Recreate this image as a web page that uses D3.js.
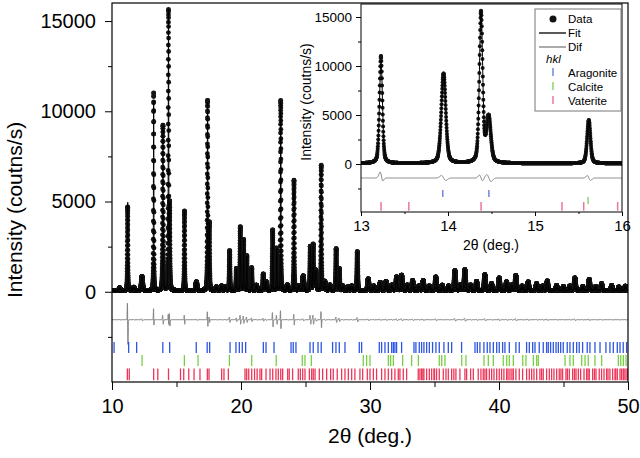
<!DOCTYPE html>
<html><head><meta charset="utf-8">
<script src="https://cdn.jsdelivr.net/npm/d3@7"></script>
<style>
body{margin:0;background:#fff}
svg{display:block}
text{font-family:Arial,"Liberation Sans",sans-serif;fill:#000}
</style>
</head><body>
<svg id="chart" width="640" height="458"></svg>
<script>
// ---------------- DATA ----------------
// Main reflections of the refined pattern: 2theta (deg), fitted height (counts/s), FWHM (deg)
const peakPos    = [11.22, 13.23, 13.95, 14.38, 14.47, 15.62, 17.41, 17.55, 19.12, 19.65, 19.95, 20.2, 20.45, 20.83, 21.73, 22.46, 22.77, 23.08, 24.11, 25.38, 25.6, 26.22, 27.38, 27.62, 29.02];
const peakHeight = [4900, 10550, 9150, 15400, 4600, 4400, 10400, 3700, 2200, 1200, 3500, 2800, 1900, 1250, 900, 3300, 2300, 10500, 6100, 2400, 2500, 6900, 2300, 1200, 2150];
const peakFwhm   = [0.05, 0.04, 0.06, 0.045, 0.06, 0.045, 0.05, 0.05, 0.06, 0.06, 0.06, 0.06, 0.06, 0.06, 0.06, 0.06, 0.06, 0.05, 0.05, 0.07, 0.07, 0.05, 0.07, 0.07, 0.07];
// residual (data - fit) around each main reflection: antisymmetric and symmetric parts
const peakResAnti = [1100, 400, 250, 300, 350, 250, 400, 150, 150, 100, 250, 200, 150, 100, 80, 400, 250, 500, 300, 250, 250, 450, 150, 100, 120];
const peakResSym  = [-600, 400, 0, 0, 0, 0, 100, 0, 0, 0, 0, 0, 0, 0, 0, 0, 0, 0, 0, 0, 0, 0, 0, 0, 0];
// weak reflections
const minorPos    = [10.6, 11.7, 12.33, 16.55, 18.1, 18.5, 18.8, 21.2, 21.94, 23.6, 24.5, 24.83, 25.8, 26.5, 26.9, 27.9, 28.3, 28.6, 29.87, 30.3, 30.8, 31.25, 31.7, 32.07, 32.46, 32.9, 33.31, 33.8, 34.13, 34.6, 35.11, 35.6, 36.1, 36.59, 37.0, 37.36, 37.8, 38.27, 38.91, 39.43, 40.02, 40.59, 41.0, 41.31, 41.8, 42.27, 42.92, 43.4, 43.75, 44.47, 45.0, 45.5, 45.89, 46.5, 47.0, 47.5, 47.96, 48.74, 49.3, 49.8];
const minorHeight = [150, 180, 780, 480, 200, 250, 200, 300, 500, 300, 250, 800, 1100, 500, 300, 250, 200, 250, 650, 250, 450, 500, 300, 750, 850, 300, 550, 250, 550, 250, 750, 300, 250, 1100, 300, 1150, 300, 500, 880, 380, 700, 480, 300, 830, 250, 480, 380, 250, 530, 280, 220, 250, 700, 220, 620, 220, 380, 280, 200, 250];
const background = 60;
const scanStart = 10, scanEnd = 50, scanStep = 0.002;
// hkl reflection positions (2theta) of the three phases
const aragonite = [10.16, 11.29, 11.91, 13.94, 14.47, 16.53, 17.38, 17.57, 19.15, 19.61, 19.87, 20.1, 20.36, 21.73, 21.94, 22.56, 23.88, 24.05, 24.26, 25.35, 25.6, 25.97, 26.22, 27.1, 27.36, 27.62, 28.06, 29.17, 29.35, 30.72, 30.9, 31.16, 31.42, 31.68, 31.81, 31.93, 32.06, 32.45, 33.41, 33.56, 33.82, 34.0, 34.18, 34.39, 34.6, 34.85, 35.11, 35.37, 35.73, 36.07, 36.33, 37.1, 38.14, 38.32, 38.52, 38.83, 39.09, 39.3, 39.56, 39.82, 40.02, 40.28, 40.46, 40.8, 41.31, 41.57, 42.14, 42.35, 42.61, 42.79, 43.12, 43.43, 43.69, 43.82, 44.0, 44.21, 44.42, 44.6, 44.78, 44.98, 45.29, 45.5, 45.76, 46.02, 46.22, 46.48, 46.84, 47.05, 47.44, 47.83, 48.29, 48.6, 48.86, 49.17, 49.38, 49.63, 49.89];
const calcite = [12.33, 15.61, 16.67, 19.1, 20.83, 22.73, 24.75, 24.96, 25.45, 29.48, 29.74, 30.0, 31.42, 31.6, 31.81, 32.53, 33.23, 33.75, 35.37, 35.56, 35.81, 37.11, 37.44, 38.84, 39.17, 39.56, 40.33, 40.6, 40.8, 41.11, 41.84, 42.09, 42.66, 42.92, 43.05, 45.12, 45.5, 45.76, 46.41, 46.67, 46.92, 47.44, 47.96, 49.25, 49.44, 49.64, 49.85];
const vaterite = [11.19, 11.34, 13.23, 13.55, 14.38, 15.31, 15.56, 15.95, 16.36, 16.82, 17.39, 17.52, 18.5, 18.68, 19.02, 20.31, 20.44, 20.6, 20.83, 21.05, 21.25, 21.47, 21.6, 21.94, 22.25, 22.46, 22.71, 22.89, 23.08, 23.23, 23.62, 23.74, 24.0, 24.44, 24.6, 24.78, 24.96, 25.3, 25.48, 25.6, 25.74, 26.07, 26.33, 26.64, 26.95, 27.15, 27.46, 27.8, 28.06, 28.32, 28.58, 28.83, 29.22, 29.43, 29.79, 30.0, 30.26, 30.51, 30.9, 31.16, 31.42, 31.68, 31.93, 32.19, 32.32, 32.58, 32.84, 33.74, 33.87, 34.0, 34.1, 34.18, 34.39, 34.6, 34.78, 34.96, 35.0, 35.16, 35.37, 35.68, 35.89, 36.07, 36.33, 36.5, 36.66, 36.97, 37.36, 37.49, 37.8, 38.01, 38.39, 38.6, 38.78, 38.91, 39.04, 39.25, 39.43, 39.61, 39.82, 40.02, 40.2, 40.38, 40.59, 40.7, 40.85, 41.0, 41.11, 41.31, 41.57, 41.83, 42.14, 42.35, 42.53, 42.71, 42.92, 43.17, 43.3, 43.43, 43.69, 43.9, 44.08, 44.26, 44.47, 44.67, 44.8, 44.93, 45.19, 45.3, 45.45, 45.71, 45.85, 45.97, 46.15, 46.33, 46.59, 46.79, 46.9, 47.0, 47.26, 47.4, 47.52, 47.77, 47.95, 48.14, 48.34, 48.45, 48.6, 48.81, 48.99, 49.05, 49.17, 49.38, 49.5, 49.63, 49.7, 49.84, 49.95];
// tick labels
const mainXTicks = [10, 20, 30, 40, 50];
const mainXMinor = [15, 25, 35, 45];
const mainYTicks = [0, 5000, 10000, 15000];
const mainYMinor = [-2500, 2500, 7500, 12500];
const insetXTicks = [13, 14, 15, 16];
const insetXMinor = [13.5, 14.5, 15.5];
const insetYTicks = [0, 5000, 10000, 15000];
const insetYMinor = [-2500, 2500, 7500, 12500];
const legendLabels = ["Data", "Fit", "Dif"];
const phaseLabels = ["Aragonite", "Calcite", "Vaterite"];

// ---------------- STYLE / LAYOUT ----------------
const phaseColorMain  = ["#2e56e6", "#78cf45", "#ee3558"];
const phaseColorInset = ["#7484dc", "#8fd36a", "#ec7598"];
const diffOffsetMain = -1550, diffOffsetInset = -1430;
const rowsMain  = [[-2780, -3390], [-3500, -4120], [-4250, -4900]];
const rowsInset = [[-2650, -3370], [-3370, -4080], [-3880, -4760]];
const phases = [aragonite, calcite, vaterite];

// ---------------- MODEL PROFILE ----------------
const eta = 0.35;
function pv(t, p, h, w) {
  const u = (t - p) / (w / 2);
  return h * (eta / (1 + u * u) + (1 - eta) * Math.exp(-Math.LN2 * u * u));
}
function fitAt(t) {
  let s = background;
  for (let i = 0; i < peakPos.length; i++) if (Math.abs(t - peakPos[i]) < 2) s += pv(t, peakPos[i], peakHeight[i], peakFwhm[i]);
  for (let i = 0; i < minorPos.length; i++) if (Math.abs(t - minorPos[i]) < 1.5) s += pv(t, minorPos[i], minorHeight[i], 0.12);
  return s;
}
function resAt(t) {
  let r = 0;
  for (let i = 0; i < peakPos.length; i++) {
    const u = (t - peakPos[i]) / (peakFwhm[i] * 0.6);
    if (Math.abs(u) < 6) r += peakResAnti[i] * (-2 * u) * Math.exp(-u * u) * 1.166 + peakResSym[i] * Math.exp(-2 * u * u);
  }
  for (let i = 0; i < minorPos.length; i++) {
    const u = (t - minorPos[i]) / 0.06;
    if (Math.abs(u) < 6) r += 0.07 * minorHeight[i] * (-2 * u) * Math.exp(-u * u) * 1.166;
  }
  return r;
}
const nPts = Math.round((scanEnd - scanStart) / scanStep);
const pts = d3.range(nPts + 1).map(i => {
  const t = scanStart + i * scanStep;
  const fit = fitAt(t), res = resAt(t);
  return {t, fit, obs: fit + res, dif: res};
});

// ---------------- DRAW ----------------
const svg = d3.select("#chart");
const defs = svg.append("defs");

// main scales
const x = d3.scaleLinear().domain([10, 50]).range([112, 628]);
const y = d3.scaleLinear().domain([-5000, 16000]).range([382, 3]);

defs.append("clipPath").attr("id", "clipMain").append("rect")
  .attr("x", x(10)).attr("y", y(16000)).attr("width", x(50) - x(10)).attr("height", y(-5000) - y(16000));

const gm = svg.append("g").attr("clip-path", "url(#clipMain)");
gm.append("g").selectAll("circle").data(pts).join("circle")
  .attr("cx", d => x(d.t)).attr("cy", d => y(d.obs)).attr("r", 2.4).attr("fill", "#151515");
gm.append("path").datum(pts).attr("fill", "none").attr("stroke", "#000").attr("stroke-width", 1)
  .attr("d", d3.line().x(d => x(d.t)).y(d => y(d.fit)));
gm.append("path").datum(pts).attr("fill", "none").attr("stroke", "#7d7d7d").attr("stroke-width", 1)
  .attr("d", d3.line().x(d => x(d.t)).y(d => y(d.dif + diffOffsetMain)));
phases.forEach((arr, k) => {
  gm.append("g").selectAll("line").data(arr).join("line")
    .attr("x1", d => x(d)).attr("x2", d => x(d))
    .attr("y1", y(rowsMain[k][0])).attr("y2", y(rowsMain[k][1]))
    .attr("stroke", phaseColorMain[k]).attr("stroke-width", 1.3);
});

// main axes
function styleAxis(g, fs) {
  g.select(".domain").remove();
  g.selectAll("line").attr("stroke", "#000").attr("stroke-width", 1);
  g.selectAll("text").style("font-size", fs + "px").attr("fill", "#000");
}
svg.append("g").attr("transform", `translate(${x(10)},0)`)
  .call(d3.axisLeft(y).tickValues(mainYTicks).tickSize(7).tickPadding(9).tickFormat(d3.format("d")))
  .call(g => styleAxis(g, 20));
svg.append("g").attr("transform", `translate(${x(10)},0)`)
  .call(d3.axisLeft(y).tickValues(mainYMinor).tickSize(4).tickFormat(""))
  .call(g => styleAxis(g, 20));
svg.append("g").attr("transform", `translate(0,${y(-5000)})`)
  .call(d3.axisBottom(x).tickValues(mainXTicks).tickSize(8).tickPadding(9).tickFormat(d3.format("d")))
  .call(g => styleAxis(g, 20));
svg.append("g").attr("transform", `translate(0,${y(-5000)})`)
  .call(d3.axisBottom(x).tickValues(mainXMinor).tickSize(5).tickFormat(""))
  .call(g => styleAxis(g, 20));
svg.append("rect").attr("x", x(10)).attr("y", y(16000)).attr("width", x(50) - x(10)).attr("height", y(-5000) - y(16000))
  .attr("fill", "none").attr("stroke", "#000").attr("stroke-width", 1.2);

svg.append("text").attr("x", 370).attr("y", 443).attr("text-anchor", "middle").style("font-size", "21px").text("2θ (deg.)");
svg.append("text").attr("transform", "translate(22,210) rotate(-90)").attr("text-anchor", "middle").style("font-size", "21px").text("Intensity (coutns/s)");

// ---------------- INSET ----------------
const ix = d3.scaleLinear().domain([13, 16]).range([361, 622]);
const iy = d3.scaleLinear().domain([-4900, 16330]).range([212, 4]);
svg.append("rect").attr("x", ix(13)).attr("y", iy(16330)).attr("width", ix(16) - ix(13)).attr("height", iy(-4900) - iy(16330)).attr("fill", "#fff");
defs.append("clipPath").attr("id", "clipInset").append("rect")
  .attr("x", ix(13)).attr("y", iy(16330)).attr("width", ix(16) - ix(13)).attr("height", iy(-4900) - iy(16330));
const gi = svg.append("g").attr("clip-path", "url(#clipInset)");
const ipts = pts.filter(d => d.t >= 12.99 && d.t <= 16.01);
gi.append("g").selectAll("circle").data(ipts).join("circle")
  .attr("cx", d => ix(d.t)).attr("cy", d => iy(d.obs)).attr("r", 2).attr("fill", "#151515");
gi.append("path").datum(ipts).attr("fill", "none").attr("stroke", "#000").attr("stroke-width", 1)
  .attr("d", d3.line().x(d => ix(d.t)).y(d => iy(d.fit)));
gi.append("path").datum(ipts).attr("fill", "none").attr("stroke", "#7d7d7d").attr("stroke-width", 1)
  .attr("d", d3.line().x(d => ix(d.t)).y(d => iy(d.dif + diffOffsetInset)));
phases.forEach((arr, k) => {
  gi.append("g").selectAll("line").data(arr.filter(v => v >= 13 && v <= 16)).join("line")
    .attr("x1", d => ix(d)).attr("x2", d => ix(d))
    .attr("y1", iy(rowsInset[k][0])).attr("y2", iy(rowsInset[k][1]))
    .attr("stroke", phaseColorInset[k]).attr("stroke-width", 1.5);
});
svg.append("g").attr("transform", `translate(${ix(13)},0)`)
  .call(d3.axisLeft(iy).tickValues(insetYTicks).tickSize(5).tickPadding(4).tickFormat(d3.format("d")))
  .call(g => styleAxis(g, 13.5));
svg.append("g").attr("transform", `translate(${ix(13)},0)`)
  .call(d3.axisLeft(iy).tickValues(insetYMinor).tickSize(3).tickFormat(""))
  .call(g => styleAxis(g, 13.5));
svg.append("g").attr("transform", `translate(0,${iy(-4900)})`)
  .call(d3.axisBottom(ix).tickValues(insetXTicks).tickSize(4).tickPadding(4).tickFormat(d3.format("d")))
  .call(g => styleAxis(g, 15));
svg.append("g").attr("transform", `translate(0,${iy(-4900)})`)
  .call(d3.axisBottom(ix).tickValues(insetXMinor).tickSize(2).tickFormat(""))
  .call(g => styleAxis(g, 15));
svg.append("rect").attr("x", ix(13)).attr("y", iy(16330)).attr("width", ix(16) - ix(13)).attr("height", iy(-4900) - iy(16330))
  .attr("fill", "none").attr("stroke", "#000").attr("stroke-width", 1);
svg.append("text").attr("x", 491).attr("y", 250).attr("text-anchor", "middle").style("font-size", "14px").text("2θ (deg.)");
svg.append("text").attr("transform", "translate(311,102) rotate(-90)").attr("text-anchor", "middle").style("font-size", "14px").text("Intensity (coutns/s)");

// legend
const lg = svg.append("g");
lg.append("rect").attr("x", 535).attr("y", 9).attr("width", 86).attr("height", 102).attr("fill", "#fff").attr("stroke", "#777").attr("stroke-width", 1);
const lfs = "11.5px";
lg.append("circle").attr("cx", 553).attr("cy", 19).attr("r", 3.5).attr("fill", "#111");
lg.append("line").attr("x1", 539).attr("x2", 566).attr("y1", 33).attr("y2", 33).attr("stroke", "#000").attr("stroke-width", 1.3);
lg.append("line").attr("x1", 539).attr("x2", 566).attr("y1", 47).attr("y2", 47).attr("stroke", "#7d7d7d").attr("stroke-width", 1.3);
legendLabels.forEach((t, i) => lg.append("text").attr("x", 568).attr("y", 23 + i * 14).style("font-size", lfs).text(t));
lg.append("text").attr("x", 546).attr("y", 63).style("font-size", lfs).style("font-style", "italic").text("hkl");
phaseLabels.forEach((t, i) => {
  lg.append("line").attr("x1", 553).attr("x2", 553).attr("y1", 68 + i * 14).attr("y2", 76 + i * 14)
    .attr("stroke", phaseColorInset[i]).attr("stroke-width", 1.5);
  lg.append("text").attr("x", 568).attr("y", 77 + i * 14).style("font-size", lfs).text(t);
});
</script>
</body></html>
